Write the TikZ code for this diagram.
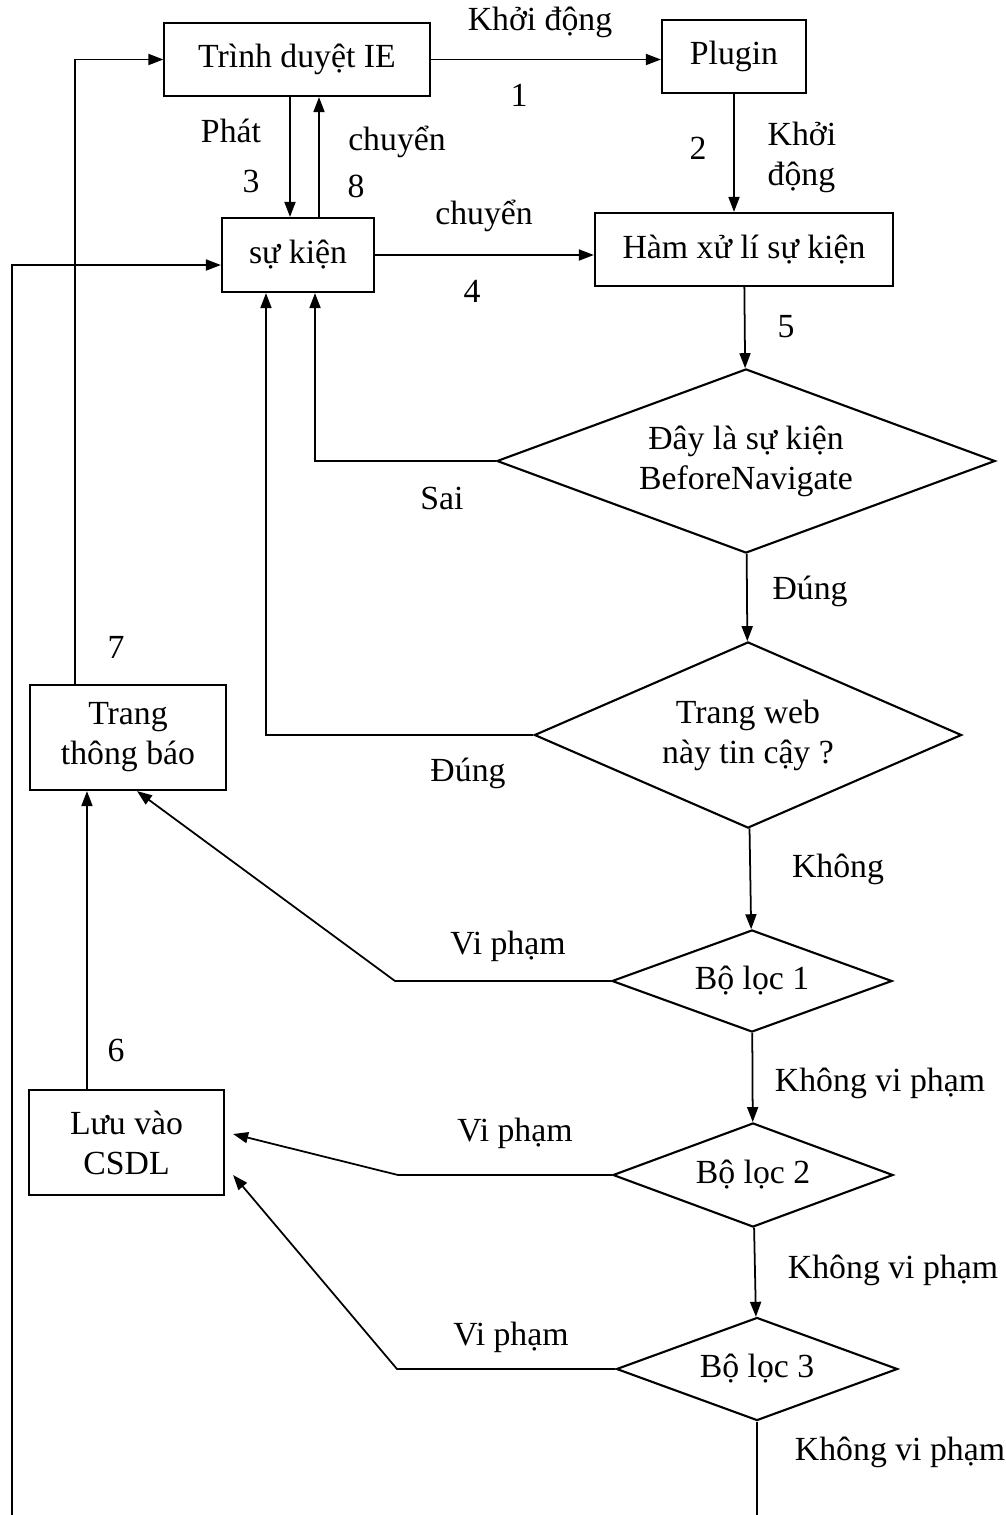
\documentclass[tikz,border=0pt]{standalone}
\usepackage{fontspec}
\setmainfont{Liberation Serif}
\usetikzlibrary{arrows.meta, positioning, calc, shapes.geometric}

\begin{document}
\begin{tikzpicture}[x=0.01cm, y=-0.01cm, >={Triangle[length=0.15cm, width=0.11cm]},
    font=\fontsize{9.6pt}{11.4pt}\selectfont,
    procbox/.style={draw, line width=0.6pt, rectangle, align=center, inner sep=0pt},
    choice/.style={draw, line width=0.6pt, diamond, align=center, inner sep=0pt},
    link/.style={line width=0.5pt},
    txt/.style={inner sep=0pt, align=center}]
        \useasboundingbox (0,0) rectangle (1006,1515);

        % khoi va nut quyet dinh
        \node[procbox, minimum width=2.65cm, minimum height=0.73cm] (ie) at (297,59.5) {Trình duyệt IE};
        \node[procbox, minimum width=1.44cm, minimum height=0.73cm] (plugin) at (734,56.5) {Plugin};
        \node[procbox, minimum width=2.98cm, minimum height=0.73cm] (ham) at (744,249.5) {Hàm xử lí sự kiện};
        \node[procbox, minimum width=1.52cm, minimum height=0.74cm] (sukien) at (298,255) {sự kiện};
        \node[choice, aspect=2.7, minimum width=4.98cm, minimum height=1.84cm] (kiemtra) at (746,461) {Đây là sự kiện\\BeforeNavigate};
        \node[choice, aspect=2.3, minimum width=4.27cm, minimum height=1.86cm] (tincay) at (748,735) {Trang web\\này tin cậy ?};
        \node[choice, aspect=2.75, minimum width=2.80cm, minimum height=1.02cm] (loc1) at (752,981) {Bộ lọc 1};
        \node[choice, aspect=2.7, minimum width=2.80cm, minimum height=1.04cm] (loc2) at (753,1175) {Bộ lọc 2};
        \node[choice, aspect=2.7, minimum width=2.81cm, minimum height=1.03cm] (loc3) at (757,1369) {Bộ lọc 3};
        \node[procbox, minimum width=1.96cm, minimum height=1.05cm] (thongbao) at (128,737.5) {Trang\\thông báo};
        \node[procbox, minimum width=1.95cm, minimum height=1.05cm] (luu) at (126.5,1142.5) {Lưu vào\\CSDL};

        % diem phu
        \coordinate (ie3) at ([xshift=-0.07cm]ie.south);
        \coordinate (sk8) at ([xshift=0.21cm]sukien.north);
        \coordinate (sk1) at ([xshift=0.17cm]sukien.south);
        \coordinate (sk2) at ([xshift=-0.32cm]sukien.south);
        \coordinate (skvao) at ([yshift=-0.1cm]sukien.west);
        \coordinate (vao) at (12,1515);
        \coordinate (ra) at (757,1515);
        \coordinate (g1) at (395,981);
        \coordinate (g2) at (398,1175);
        \coordinate (g3) at (397,1369);
        \coordinate (tb1) at ([xshift=0.09cm]thongbao.south);
        \coordinate (luu2) at ([xshift=0.08cm, yshift=0.085cm]luu.east);
        \coordinate (luu3) at ([xshift=0.08cm, yshift=-0.325cm]luu.east);
        \coordinate (l6) at ([xshift=-0.395cm]luu.north);
        \coordinate (t7) at ([xshift=-0.53cm]thongbao.north);

        % mui ten
        \draw[->, link] (ie.east) -- (ie.east -| plugin.west);
        \draw[->, link] (plugin) -- (plugin |- ham.north);
        \draw[->, link] (ie3) -- (ie3 |- sukien.north);
        \draw[->, link] (sk8) -- (sk8 |- ie.south);
        \draw[->, link] (sukien) -- (sukien -| ham.west);
        \draw[->, link] (ham) -- (kiemtra);
        \draw[->, link] (kiemtra.west) -| (sk1);
        \draw[->, link] (kiemtra) -- (tincay);
        \draw[->, link] (tincay.west) -| (sk2);
        \draw[->, link] (tincay) -- (loc1);
        \draw[->, link] (loc1) -- (loc2);
        \draw[->, link] (loc2) -- (loc3);
        \draw[link] (loc3) -- (ra);
        \draw[->, link] (loc1.west) -- (g1) -- (tb1);
        \draw[->, link] (loc2.west) -- (g2) -- (luu2);
        \draw[->, link] (loc3.west) -- (g3) -- (luu3);
        \draw[->, link] (l6) -- (l6 |- thongbao.south);
        \draw[->, link] (t7) |- (ie.west);
        \draw[->, link] (vao) |- (skvao);

        % nhan
        \node[txt] (lb1) at (540,22) {Khởi động};
        \node[txt] (lb2) at (519,95) {1};
        \node[txt] (lb3) at (231,131) {Phát};
        \node[txt] (lb4) at (251,181) {3};
        \node[txt] (lb5) at (397,142) {chuyển};
        \node[txt] (lb6) at (356,186) {8};
        \node[txt] (lb7) at (698,148) {2};
        \node[txt, anchor=west, align=left] (lb8) at (767,157) {Khởi\\động};
        \node[txt] (lb9) at (484,216) {chuyển};
        \node[txt] (lb10) at (472,291) {4};
        \node[txt] (lb11) at (786,327) {5};
        \node[txt] (lb12) at (442,498) {Sai};
        \node[txt] (lb13) at (810,591) {Đúng};
        \node[txt] (lb14) at (468,773) {Đúng};
        \node[txt] (lb15) at (838,869) {Không};
        \node[txt] (lb16) at (116,647) {7};
        \node[txt] (lb17) at (508,946) {Vi phạm};
        \node[txt] (lb18) at (880,1083) {Không vi phạm};
        \node[txt] (lb19) at (116,1050) {6};
        \node[txt] (lb20) at (515,1133) {Vi phạm};
        \node[txt] (lb21) at (893,1270) {Không vi phạm};
        \node[txt] (lb22) at (511,1337) {Vi phạm};
        \node[txt] (lb23) at (900,1452) {Không vi phạm};
\end{tikzpicture}
\end{document}
